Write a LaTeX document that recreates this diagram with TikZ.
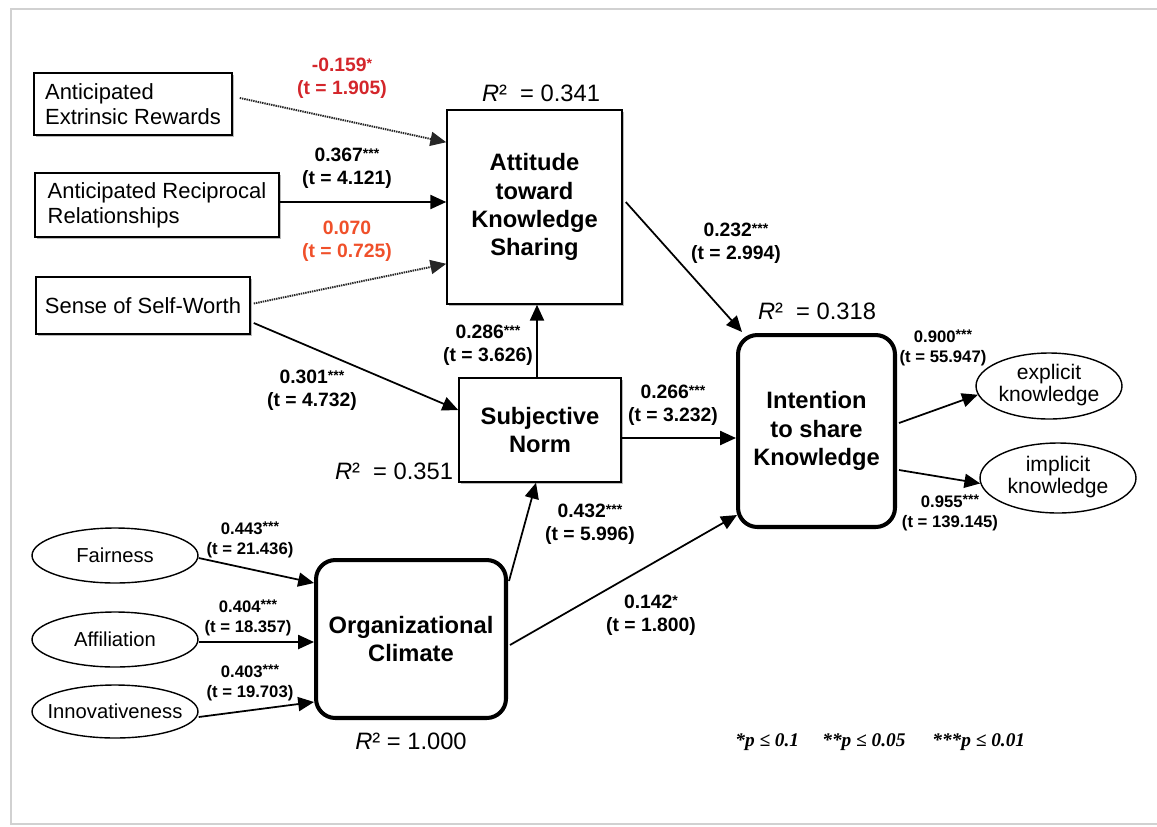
\documentclass[tikz,border=0pt]{standalone}
\usepackage{fontspec}
\setmainfont{Liberation Sans}
\newfontfamily\tmsfont{Liberation Serif}
\usetikzlibrary{arrows.meta,shadows,shapes.geometric,calc}
\definecolor{redA}{HTML}{D4262B}
\definecolor{redB}{HTML}{F0502A}
\newcommand\stars[1]{\raisebox{0.3ex}{\fontsize{8}{8}\selectfont #1}}
\newcommand\zw[1]{\makebox[0pt][c]{#1}}
\begin{document}
\begin{tikzpicture}[x=0.02cm,y=-0.02cm,
  sbox/.style={draw, line width=0.9pt, fill=white,
    drop shadow={shadow xshift=1.3pt, shadow yshift=-1.3pt, fill=black!45, opacity=0.6},
    font=\fontsize{12.5}{14.2}\selectfont, align=left, inner sep=0pt},
  bbox/.style={draw, line width=0.9pt, fill=white,
    drop shadow={shadow xshift=1.3pt, shadow yshift=-1.3pt, fill=black!45, opacity=0.6},
    font=\fontsize{13.5}{16}\selectfont\bfseries, align=center, inner sep=0pt},
  rbox/.style={draw, line width=2.3pt, rounded corners=11pt, fill=white,
    font=\fontsize{13.5}{16}\selectfont\bfseries, align=center, inner sep=0pt},
  ell/.style={ellipse, draw, line width=0.8pt, inner sep=0pt, font=\fontsize{11.5}{13}\selectfont},
  ell2/.style={ellipse, draw, line width=0.8pt, inner sep=0pt, font=\fontsize{12}{12.5}\selectfont},
  lbl/.style={font=\fontsize{11}{13}\selectfont\bfseries, align=center, inner sep=0pt},
  slbl/.style={font=\fontsize{9.5}{11.3}\selectfont\bfseries, align=center, inner sep=0pt},
  rsq/.style={font=\fontsize{13.5}{15}\selectfont, inner sep=0pt},
  legend/.style={font=\tmsfont\bfseries\itshape\fontsize{11}{13}\selectfont, anchor=west, inner sep=0pt},
  conn/.style={-{Triangle[length=9pt,width=8pt]}, line width=1pt},
  dconn/.style={conn, draw=black!85, line width=1.1pt, dash pattern=on 0.8pt off 0.5pt}
]
\useasboundingbox (0,0) rectangle (1157,826);
\fill[white] (0,0) rectangle (1157,826);
\draw[black!18, line width=1.6pt] (1175,9) -- (11,9) -- (11,824) -- (1175,824);

% nodes
\node[sbox, minimum width=3.96cm, minimum height=1.24cm] (AER) at (133,104) {Anticipated\\Extrinsic Rewards};
\node[sbox, minimum width=4.88cm, minimum height=1.28cm] (ARR) at (157,205) {Anticipated Reciprocal\\Relationships};
\node[sbox, minimum width=4.28cm, minimum height=1.14cm] (SSW) at (143,305.5) {Sense of Self-Worth};
\node[bbox, minimum width=3.5cm, minimum height=3.88cm] (ATT) at (534.5,207) {Attitude\\toward\\Knowledge\\Sharing};
\node[bbox, minimum width=3.24cm, minimum height=2.08cm] (SN) at (540,430) {Subjective\\Norm};
\node[rbox, minimum width=3.14cm, minimum height=3.84cm] (INT) at (816.5,431) {Intention\\to share\\Knowledge};
\node[rbox, minimum width=3.8cm, minimum height=3.16cm] (OC) at (411,639) {Organizational\\Climate};
\node[ell, minimum width=3.32cm, minimum height=1.1cm] (FAI) at (115,555.5) {\zw{Fairness}};
\node[ell, minimum width=3.32cm, minimum height=1.1cm] (AFF) at (115,639.5) {\zw{Affiliation}};
\node[ell, minimum width=3.32cm, minimum height=1.06cm] (INN) at (115,711.5) {\zw{Innovativeness}};
\node[ell2, minimum width=2.92cm, minimum height=1.32cm] (EXP) at (1049,386) {\zw{\begin{tabular}{@{}c@{}}explicit\\knowledge\end{tabular}}};
\node[ell2, minimum width=3.12cm, minimum height=1.4cm] (IMP) at (1058,478) {\zw{\begin{tabular}{@{}c@{}}implicit\\knowledge\end{tabular}}};

% R squared
\node[rsq] (r1) at (541,93) {\textit{R}²\ \ = 0.341};
\node[rsq] (r2) at (394,471) {\textit{R}²\ \ = 0.351};
\node[rsq] (r3) at (817,311) {\textit{R}²\ \ = 0.318};
\node[rsq] (r4) at (411,741) {\textit{R}² = 1.000};

% connectors
\draw[dconn] ($(AER.east)+(7,-6)$) -- ($(ATT.north west)+(0,33)$);
\coordinate (a2) at ($(ARR.east)+(0,-3)$);
\draw[conn] (a2) -- (a2 -| ATT.west);
\draw[dconn] ($(SSW.east)+(3,-2)$) -- ($(ATT.south west)+(0,-41)$);
\draw[conn] ($(SSW.east)+(3,17.5)$) -- ($(SN.west)+(0,-20)$);
\coordinate (a5) at ($(SN.north)+(-3,0)$);
\draw[conn] (a5) -- (a5 |- ATT.south);
\draw[conn] ($(ATT.east)+(3,-5)$) -- ($(INT.north west)+(6,-1)$);
\coordinate (a7) at ($(SN.east)+(0,8)$);
\draw[conn] (a7) -- (a7 -| INT.west);
\draw[conn] ($(OC.north east)+(1,23)$) -- ($(SN.south)+(-4,0)$);
\draw[conn] ($(OC.east)+(2,6)$) -- ($(INT.south west)+(1,-14)$);
\draw[conn] ($(INT.east)+(2,-8)$) -- (EXP.187);
\draw[conn] ($(INT.east)+(2,39)$) -- (IMP.184);
\draw[conn] ($(FAI.east)+(0,2.5)$) -- ($(OC.north west)+(0,25)$);
\coordinate (a13) at ($(AFF.east)+(0,2.5)$);
\draw[conn] (a13) -- (a13 -| OC.west);
\draw[conn] ($(INN.east)+(0,5.5)$) -- ($(OC.west)+(0,63)$);

% path labels
\node[lbl, text=redA] (l1) at (342,78) {-0.159\stars{*}\\(t = 1.905)};
\node[lbl] (l2) at (347,168) {0.367\stars{***}\\(t = 4.121)};
\node[lbl, text=redB] (l3) at (347,241) {0.070\\(t = 0.725)};
\node[lbl] (l4) at (736,243) {0.232\stars{***}\\(t = 2.994)};
\node[lbl] (l5) at (488,345) {0.286\stars{***}\\(t = 3.626)};
\node[lbl] (l6) at (312,390) {0.301\stars{***}\\(t = 4.732)};
\node[lbl] (l7) at (673,405) {0.266\stars{***}\\(t = 3.232)};
\node[lbl] (l8) at (590,524) {0.432\stars{***}\\(t = 5.996)};
\node[lbl] (l9) at (651,615) {0.142\stars{*}\\(t = 1.800)};
\node[slbl] (l10) at (943,348) {0.900\stars{***}\\(t = 55.947)};
\node[slbl] (l11) at (950,513) {0.955\stars{***}\\(t = 139.145)};
\node[slbl] (l12) at (250,540) {0.443\stars{***}\\(t = 21.436)};
\node[slbl] (l13) at (248,618) {0.404\stars{***}\\(t = 18.357)};
\node[slbl] (l14) at (250,683) {0.403\stars{***}\\(t = 19.703)};

% legend
\node[legend] (g1) at (735,742) {*p ≤ 0.1};
\node[legend] (g2) at (822,742) {**p ≤ 0.05};
\node[legend] (g3) at (932,742) {***p ≤\ 0.01};
\end{tikzpicture}
\end{document}
